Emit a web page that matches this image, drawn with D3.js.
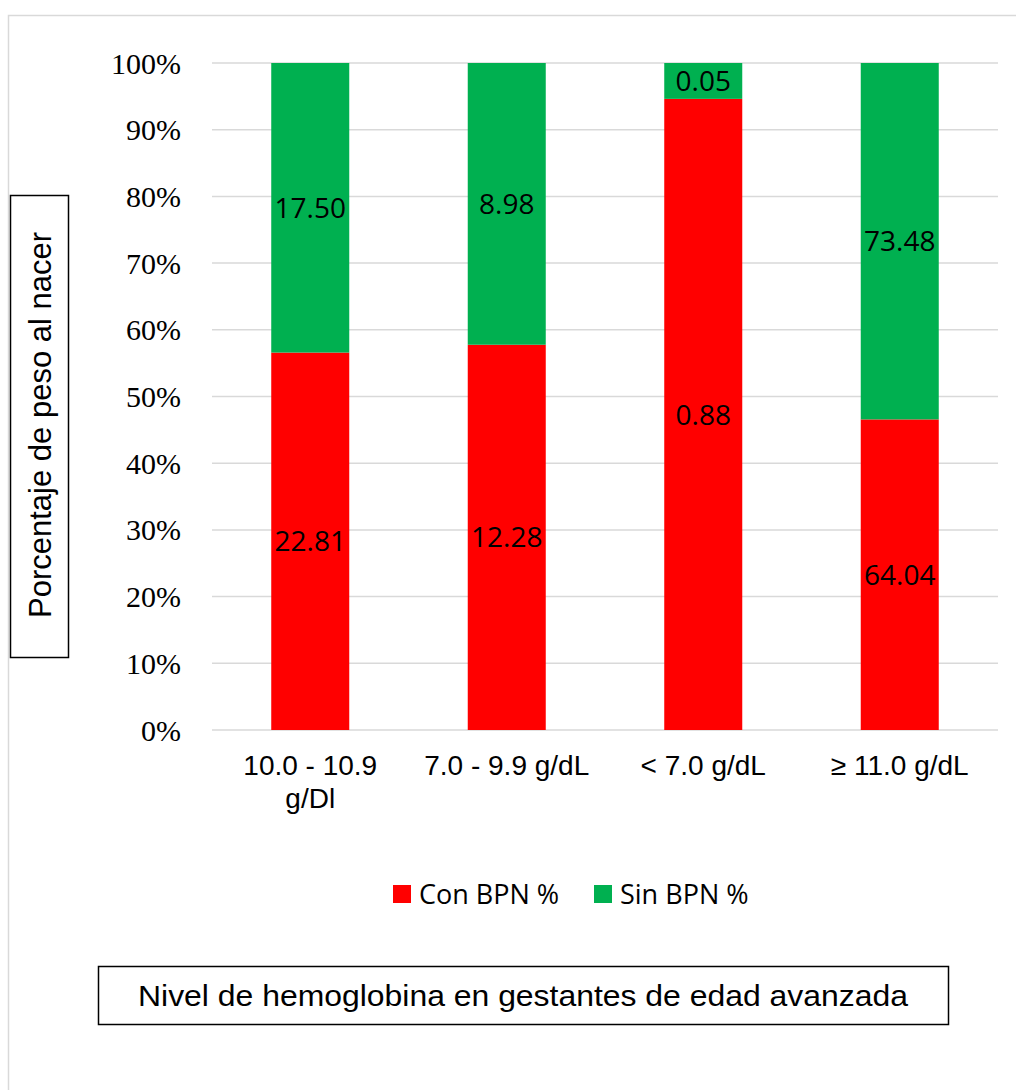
<!DOCTYPE html>
<html>
<head>
<meta charset="utf-8">
<script src="https://cdn.jsdelivr.net/npm/d3@7"></script>
<style>
  body { margin: 0; background: #fff; }
  svg { display: block; }
  .serif { font-family: "Liberation Serif", "Times New Roman", "DejaVu Serif", serif; }
</style>
</head>
<body>
<svg></svg>
<script>
// Categories (hemoglobin level) and the two series shown in the stacked bars
const categories = ["10.0 - 10.9 g/Dl", "7.0 - 9.9 g/dL", "< 7.0 g/dL", "≥ 11.0 g/dL"];
const conBPN = [22.81, 12.28, 0.88, 64.04];
const sinBPN = [17.50, 8.98, 0.05, 73.48];
const seriesNames = ["Con BPN %", "Sin BPN %"];
const seriesColors = ["#ff0000", "#00b050"];
const yTicks = [0, 0.1, 0.2, 0.3, 0.4, 0.5, 0.6, 0.7, 0.8, 0.9, 1];

const width = 1016, height = 1090;
const svg = d3.select("svg").attr("width", width).attr("height", height);

// Outer chart frame (runs off the right and bottom edges)
svg.append("rect")
  .attr("x", 8.5).attr("y", 15.5)
  .attr("width", 1100).attr("height", 1100)
  .attr("fill", "none")
  .attr("stroke", "#d9d9d9")
  .attr("stroke-width", 1.5);

// Build rows for the stack
const rows = categories.map((c, i) => ({ cat: c, "Con BPN %": conBPN[i], "Sin BPN %": sinBPN[i] }));
const stacked = d3.stack().keys(seriesNames).offset(d3.stackOffsetExpand)(rows);

const x = d3.scaleBand()
  .domain(categories)
  .range([212, 998])
  .paddingInner(0.603)
  .paddingOuter(0.3015);

const y = d3.scaleLinear().domain([0, 1]).range([730, 63]);

// Gridlines
svg.append("g")
  .selectAll("line")
  .data(yTicks)
  .enter()
  .append("line")
  .attr("x1", 212).attr("x2", 998)
  .attr("y1", (d) => y(d)).attr("y2", (d) => y(d))
  .attr("stroke", "#d9d9d9")
  .attr("stroke-width", 1.5);

// Y tick labels
svg.append("g")
  .selectAll("text")
  .data(yTicks)
  .enter()
  .append("text")
  .attr("class", "serif")
  .attr("x", 181)
  .attr("y", (d) => y(d))
  .attr("dy", "0.35em")
  .attr("text-anchor", "end")
  .style("font-size", "30px")
  .text((d) => d3.format(".0%")(d));

// Bars
const layers = svg.append("g")
  .selectAll("g.layer")
  .data(stacked)
  .enter()
  .append("g")
  .attr("class", "layer")
  .attr("fill", (_d, i) => seriesColors[i]);

layers.selectAll("rect")
  .data((d) => d)
  .enter()
  .append("rect")
  .attr("x", (d) => x(d.data.cat))
  .attr("y", (d) => y(d[1]))
  .attr("width", x.bandwidth())
  .attr("height", (d) => y(d[0]) - y(d[1]));

// Data labels, centred in each segment, showing the raw values
layers.selectAll("text")
  .data((d) => d.map((p) => ({ p, key: d.key })))
  .enter()
  .append("text")
  .attr("x", (d) => x(d.p.data.cat) + x.bandwidth() / 2)
  .attr("y", (d) => (y(d.p[0]) + y(d.p[1])) / 2)
  .attr("dy", "0.36em")
  .attr("text-anchor", "middle")
  .attr("fill", "#000")
  .style("font-family", "'Open Sans', sans-serif")
  .style("font-size", "28px")
  .text((d) => d.p.data[d.key].toFixed(2));

// X category labels (wrapped when too wide)
const xLabels = svg.append("g")
  .selectAll("text")
  .data(categories)
  .enter()
  .append("text")
  .attr("x", (d) => x(d) + x.bandwidth() / 2)
  .attr("y", 775)
  .attr("text-anchor", "middle")
  .style("font-family", "'Liberation Sans', Arial, sans-serif")
  .style("font-size", "28px")
  .text((d) => d);

xLabels.each(function (d) {
  const t = d3.select(this);
  if (this.getComputedTextLength() <= 185) return;
  const words = d.split(" ");
  const cx = t.attr("x");
  t.text(null);
  let line = [];
  let tspan = t.append("tspan").attr("x", cx);
  words.forEach((w) => {
    line.push(w);
    tspan.text(line.join(" "));
    if (tspan.node().getComputedTextLength() > 150 && line.length > 1) {
      line.pop();
      tspan.text(line.join(" "));
      line = [w];
      tspan = t.append("tspan").attr("x", cx).attr("dy", 33).text(w);
    }
  });
});

// Legend
const legend = svg.append("g")
  .selectAll("g")
  .data(seriesNames)
  .enter()
  .append("g")
  .attr("transform", (_d, i) => `translate(${[393, 594][i]}, 885)`);

legend.append("rect")
  .attr("width", 18).attr("height", 18)
  .attr("fill", (_d, i) => seriesColors[i]);

legend.append("text")
  .attr("x", 26)
  .attr("y", 9)
  .attr("dy", "0.36em")
  .style("font-family", "'Open Sans', sans-serif")
  .style("font-size", "27px")
  .text((d) => d);

// Y axis title in a box
svg.append("rect")
  .attr("x", 10.5).attr("y", 195.5)
  .attr("width", 58).attr("height", 462)
  .attr("fill", "#fff")
  .attr("stroke", "#000")
  .attr("stroke-width", 1.5);

svg.append("text")
  .attr("transform", "translate(40, 425) rotate(-90)")
  .attr("text-anchor", "middle")
  .attr("dy", "0.35em")
  .style("font-family", "'Liberation Sans', Arial, sans-serif")
  .style("font-size", "31px")
  .text("Porcentaje de peso al nacer");

// X axis title in a box
svg.append("rect")
  .attr("x", 98.5).attr("y", 966.5)
  .attr("width", 850).attr("height", 58)
  .attr("fill", "#fff")
  .attr("stroke", "#000")
  .attr("stroke-width", 1.5);

svg.append("text")
  .attr("x", 523)
  .attr("y", 996)
  .attr("dy", "0.35em")
  .attr("text-anchor", "middle")
  .attr("textLength", 770)
  .attr("lengthAdjust", "spacingAndGlyphs")
  .style("font-family", "'Liberation Sans', Arial, sans-serif")
  .style("font-size", "29px")
  .text("Nivel de hemoglobina en gestantes de edad avanzada");
</script>
</body>
</html>
